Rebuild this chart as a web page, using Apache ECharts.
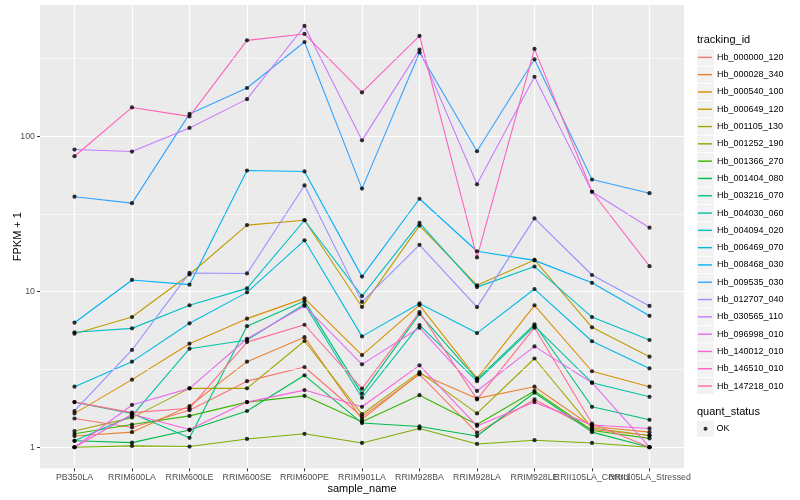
<!DOCTYPE html>
<html>
<head>
<meta charset="utf-8">
<script src="https://cdn.jsdelivr.net/npm/echarts@6/dist/echarts.min.js"></script>
<style>html,body{margin:0;padding:0;background:#fff}#chart{width:800px;height:500px}</style>
</head>
<body>
<div id="chart"></div>
<script>
// ---- data ----
const categories = ['PB350LA','RRIM600LA','RRIM600LE','RRIM600SE','RRIM600PE','RRIM901LA','RRIM928BA','RRIM928LA','RRIM928LE','RRII105LA_Control','RRII105LA_Stressed'];
const trackingIds = ['Hb_000000_120','Hb_000028_340','Hb_000540_100','Hb_000649_120','Hb_001105_130','Hb_001252_190','Hb_001366_270','Hb_001404_080','Hb_003216_070','Hb_004030_060','Hb_004094_020','Hb_006469_070','Hb_008468_030','Hb_009535_030','Hb_012707_040','Hb_030565_110','Hb_096998_010','Hb_140012_010','Hb_146510_010','Hb_147218_010'];
const hb_000000_120 = [1.53, 1.34, 1.73, 2.66, 3.28, 1.57, 2.94, 1.24, 2.03, 1.30, 1.19];
const hb_000028_340 = [1.18, 1.25, 1.84, 3.55, 5.10, 1.51, 2.98, 2.06, 2.45, 1.36, 1.25];
const hb_000540_100 = [1.65, 2.72, 4.63, 6.71, 9.06, 3.91, 8.20, 2.77, 8.17, 3.08, 2.45];
const hb_000649_120 = [5.37, 6.87, 12.9, 26.8, 28.8, 7.98, 26.6, 11.0, 16.0, 5.90, 3.82];
const hb_001105_130 = [1.27, 1.55, 2.39, 2.39, 4.82, 1.63, 3.04, 1.65, 3.72, 1.33, 1.19];
const hb_001252_190 = [1.00, 1.02, 1.01, 1.13, 1.22, 1.065, 1.32, 1.05, 1.11, 1.065, 1.00];
const hb_001366_270 = [1.22, 1.40, 1.59, 1.95, 2.14, 1.46, 2.16, 1.40, 2.30, 1.28, 1.14];
const hb_001404_080 = [1.10, 1.07, 1.29, 1.71, 2.90, 1.43, 1.36, 1.18, 2.24, 1.25, 1.00];
const hb_003216_070 = [1.95, 1.65, 1.15, 6.00, 8.70, 2.21, 7.20, 2.73, 6.17, 1.82, 1.50];
const hb_004030_060 = [1.10, 1.59, 4.30, 4.89, 8.30, 2.08, 6.10, 2.66, 6.00, 2.60, 2.11];
const hb_004094_020 = [5.48, 5.81, 8.17, 10.5, 28.8, 9.37, 27.7, 10.7, 14.5, 6.87, 4.89];
const hb_006469_070 = [2.45, 3.55, 6.26, 9.90, 21.4, 5.16, 8.40, 5.42, 10.4, 4.80, 3.21];
const hb_008468_030 = [6.32, 11.9, 11.1, 60.1, 59.3, 12.5, 39.6, 18.2, 15.9, 11.4, 7.00];
const hb_009535_030 = [40.8, 37.1, 139, 204, 403, 46.0, 345, 80.0, 312, 52.6, 43.0];
const hb_012707_040 = [1.71, 4.22, 13.2, 13.1, 48.2, 8.60, 20.0, 7.96, 29.6, 12.8, 8.10];
const hb_030565_110 = [82.0, 79.6, 113, 173, 511, 94.0, 360, 49.0, 241, 43.9, 25.8];
const hb_096998_010 = [1.00, 1.87, 2.39, 4.98, 8.10, 3.41, 5.87, 2.30, 4.45, 2.60, 1.00];
const hb_140012_010 = [1.00, 1.63, 1.30, 1.95, 2.33, 1.82, 3.36, 1.37, 1.95, 1.39, 1.32];
const hb_146510_010 = [74.3, 153, 134, 413, 454, 191, 441, 16.6, 364, 43.9, 14.6];
const hb_147218_010 = [1.95, 1.67, 1.78, 4.74, 6.13, 2.38, 7.40, 2.03, 5.87, 1.42, 1.00];
const seriesValues = [hb_000000_120, hb_000028_340, hb_000540_100, hb_000649_120, hb_001105_130, hb_001252_190, hb_001366_270, hb_001404_080, hb_003216_070, hb_004030_060, hb_004094_020, hb_006469_070, hb_008468_030, hb_009535_030, hb_012707_040, hb_030565_110, hb_096998_010, hb_140012_010, hb_146510_010, hb_147218_010];
const quantStatus = ['OK'];
const yTickValues = [1, 10, 100];
const yMinorBreaks = [3.1623, 31.623, 316.23];

// ---- styles ----
const palette = ['#F8766D','#EA8331','#D89000','#C09B00','#A3A500','#7CAE00','#39B600','#00BB4E','#00BF7D','#00C1A3','#00BFC4','#00BAE0','#00B0F6','#35A2FF','#9590FF','#C77CFF','#E76BF3','#FA62DB','#FF62BC','#FF6C91'];
const FONT = '"Liberation Sans", Arial, sans-serif';
const catIdx = categories.map((_, i) => i);
const legendTop = 48.7, rowH = 17.3;
// panel: x 40..684, discrete expansion 0.6 of a step on each side
const panelL = 40, panelR = 684, panelT = 5, panelB = 468.3, xPad = 0.6;
const step = (panelR - panelL) / (categories.length - 1 + 2 * xPad);

const chart = echarts.init(document.getElementById('chart'), null, {renderer: 'canvas'});

const lineSeries = trackingIds.map((id, i) => ({
  name: id, type: 'line', color: palette[i],
  data: seriesValues[i].map((v, j) => [j, v]),
  symbol: 'none', lineStyle: {width: 1.1}, z: 3, silent: true
}));

const pointData = [];
seriesValues.forEach(arr => arr.forEach((v, j) => pointData.push([j, v])));

const keyBoxes = trackingIds.map((_, i) => ({
  type: 'rect', left: 697, top: legendTop + i * rowH + 0.5,
  shape: {width: 17, height: rowH - 1}, style: {fill: '#F2F2F2'}, silent: true
}));
keyBoxes.push({type: 'rect', left: 697, top: 420.5, shape: {width: 17, height: 16.3}, style: {fill: '#F2F2F2'}, silent: true});

chart.setOption({
  animation: false,
  textStyle: {fontFamily: FONT},
  grid: [
    {left: panelL, right: 800 - panelR, top: panelT, bottom: 500 - panelB, show: true, backgroundColor: '#EBEBEB', borderWidth: 0,
     containLabel: false, outerBoundsMode: 'none'},
    {left: panelL + xPad * step, right: 800 - panelR + xPad * step, top: panelT, bottom: 500 - panelB, show: false,
     containLabel: false, outerBoundsMode: 'none'}
  ],
  title: [
    {text: 'tracking_id', left: 697, top: 34, padding: 0, textStyle: {fontSize: 11, fontWeight: 'normal', color: '#000', fontFamily: FONT}},
    {text: 'quant_status', left: 697, top: 406, padding: 0, textStyle: {fontSize: 11, fontWeight: 'normal', color: '#000', fontFamily: FONT}}
  ],
  graphic: keyBoxes,
  legend: [
    {data: trackingIds, orient: 'vertical', left: 698, top: legendTop, padding: 0, itemGap: 0,
     icon: 'rect', itemWidth: 14, itemHeight: 1.4, selectedMode: false,
     textStyle: {fontSize: 9, lineHeight: rowH, color: '#000', fontFamily: FONT}},
    {data: quantStatus, orient: 'vertical', left: 703.5, top: 420.5, padding: 0, itemGap: 0,
     icon: 'circle', itemWidth: 4, itemHeight: 4, selectedMode: false,
     textStyle: {fontSize: 9, lineHeight: 16.3, color: '#000', fontFamily: FONT, padding: [0, 0, 0, 4]}}
  ],
  xAxis: [
    {
      type: 'value', gridIndex: 0, min: -xPad, max: categories.length - 1 + xPad, position: 'bottom',
      axisLine: {show: false, onZero: false},
      axisTick: {show: true, customValues: catIdx, length: 3, lineStyle: {color: '#333333', width: 1}},
      axisLabel: {show: false},
      splitLine: {show: true, lineStyle: {color: '#FFFFFF', width: 1.2}},
      name: 'sample_name', nameLocation: 'middle', nameGap: 15,
      nameTextStyle: {fontSize: 11, color: '#000', fontFamily: FONT}
    },
    {
      type: 'category', gridIndex: 1, data: categories, boundaryGap: false, position: 'bottom',
      axisLine: {show: false, onZero: false}, axisTick: {show: false}, splitLine: {show: false},
      axisLabel: {interval: 0, fontSize: 8.8, color: '#4D4D4D', margin: 5, fontFamily: FONT, hideOverlap: false}
    }
  ],
  yAxis: [
    {
      type: 'log', gridIndex: 0, logBase: 10, min: 0.732, max: 697, position: 'left',
      axisLine: {show: false, onZero: false},
      axisTick: {show: true, customValues: yTickValues, length: 3, lineStyle: {color: '#333333', width: 1}},
      axisLabel: {customValues: yTickValues, fontSize: 8.8, color: '#4D4D4D', margin: 5, fontFamily: FONT, formatter: v => String(Math.round(v))},
      splitLine: {show: true, lineStyle: {color: '#FFFFFF', width: 1.2}},
      name: 'FPKM + 1', nameLocation: 'middle', nameGap: 17, nameRotate: 90, nameMoveOverlap: false,
      nameTextStyle: {fontSize: 11, color: '#000', fontFamily: FONT}
    },
    {type: 'value', gridIndex: 1, show: false, min: 0, max: 1, axisLine: {onZero: false}}
  ],
  series: [
    {name: 'minor', type: 'line', data: [], z: 1, silent: true,
     markLine: {silent: true, symbol: 'none', label: {show: false}, animation: false,
       lineStyle: {color: '#FFFFFF', width: 0.6, type: 'solid'},
       data: yMinorBreaks.map(v => ({yAxis: v}))}},
    ...lineSeries,
    {name: 'OK', type: 'scatter', data: pointData, symbol: 'circle', symbolSize: 4.2,
     itemStyle: {color: '#000000'}, z: 5, silent: true}
  ]
});
</script>
</body>
</html>
